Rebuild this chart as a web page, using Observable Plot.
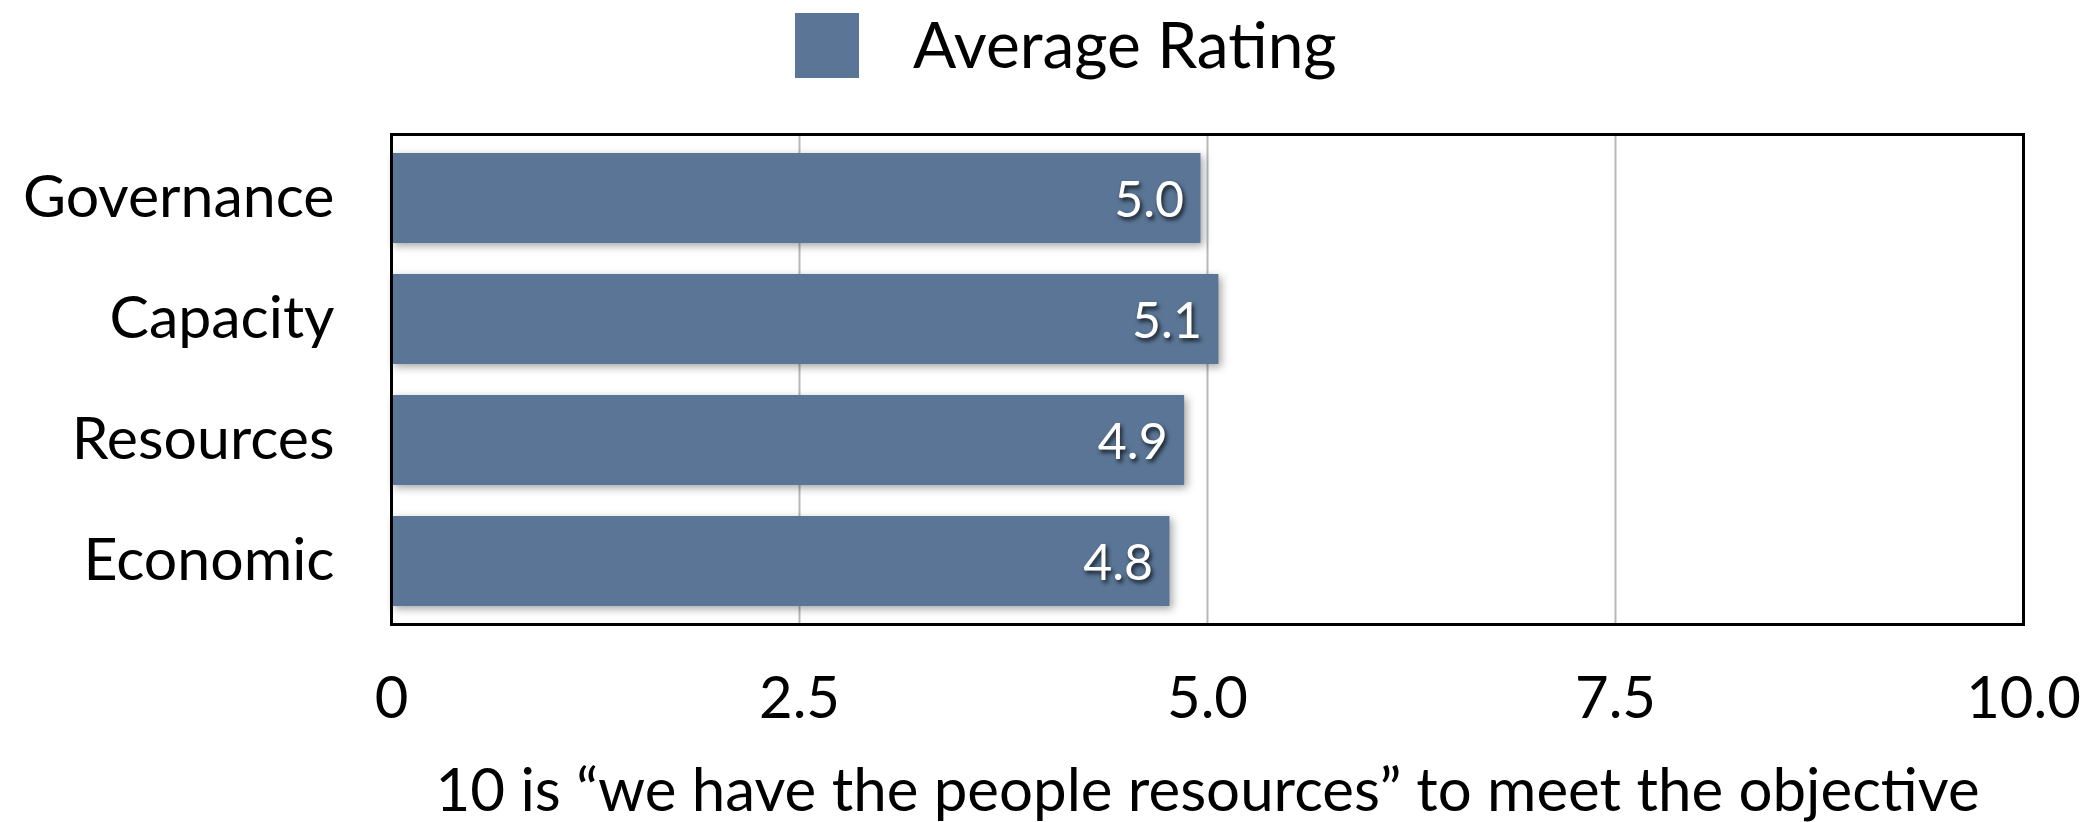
<!DOCTYPE html>
<html>
<head>
<meta charset="utf-8">
<script src="https://cdn.jsdelivr.net/npm/d3@7"></script>
<script src="https://cdn.jsdelivr.net/npm/@observablehq/plot@0.6"></script>
<style>
  html, body { margin: 0; padding: 0; background: white; }
  body { width: 2094px; height: 822px; overflow: hidden; font-family: Lato, "Open Sans", sans-serif; color: black; }
  #legend { position: relative; height: 110px; width: 2094px; }
  #legend .sw { position: absolute; left: 795px; top: 13px; width: 64px; height: 65px; background: #5a7595; }
  #legend .lb { position: absolute; left: 913px; top: 0px; font-size: 64px; line-height: 88px; white-space: nowrap; }
  .bars rect { filter: drop-shadow(3px 3px 4px rgba(0,0,0,0.35)); }
  .vlabels text { filter: drop-shadow(2px 3px 2px rgba(0,0,0,0.75)); }
</style>
</head>
<body>
<div id="legend"><div class="sw"></div><div class="lb"></div></div>
<div id="chart"></div>
<script>
const categories = ["Governance", "Capacity", "Resources", "Economic"];
const ratings = [4.96, 5.07, 4.86, 4.77];
const xTicks = [0, 2.5, 5, 7.5, 10];
const xTickLabels = ["0", "2.5", "5.0", "7.5", "10.0"];
const seriesName = "Average Rating";
const xAxisTitle = "10 is \u201cwe have the people resources\u201d to meet the objective";
const barColor = "#5a7595";

document.querySelector("#legend .lb").textContent = seriesName;
document.querySelector("#legend .sw").style.background = barColor;

const data = categories.map((c, i) => ({category: c, rating: ratings[i]}));

const chart = Plot.plot({
  width: 2094,
  height: 712,
  marginTop: 24,
  marginBottom: 198,
  marginLeft: 391,
  marginRight: 71,
  style: {fontFamily: "Lato, 'Open Sans', sans-serif", background: "white", color: "black", overflow: "visible"},
  x: {domain: [0, 10]},
  y: {domain: categories, paddingInner: 0.26, paddingOuter: 0.15},
  marks: [
    Plot.gridX(xTicks.slice(1, -1), {stroke: "#b8b8b8", strokeOpacity: 1, strokeWidth: 2}),
    Plot.barX(data, {x: "rating", y: "category", fill: barColor, className: "bars"}),
    Plot.text(data, {x: "rating", y: "category", text: d => d3.format(".1f")(d.rating), textAnchor: "end", dx: -17, dy: 2, fill: "white", fontSize: 50, className: "vlabels"}),
    Plot.frame({stroke: "black", strokeWidth: 3}),
    Plot.axisY({tickSize: 0, tickPadding: 57, fontSize: 59, label: null}),
    Plot.axisX(xTicks, {tickSize: 0, tickPadding: 52, fontSize: 58, tickFormat: d => xTickLabels[xTicks.indexOf(d)], label: null}),
    Plot.axisX([], {tickSize: 0, fontSize: 60, dx: -12, label: xAxisTitle, labelAnchor: "center", labelArrow: "none", labelOffset: 186})
  ]
});
document.getElementById("chart").appendChild(chart);
</script>
</body>
</html>
